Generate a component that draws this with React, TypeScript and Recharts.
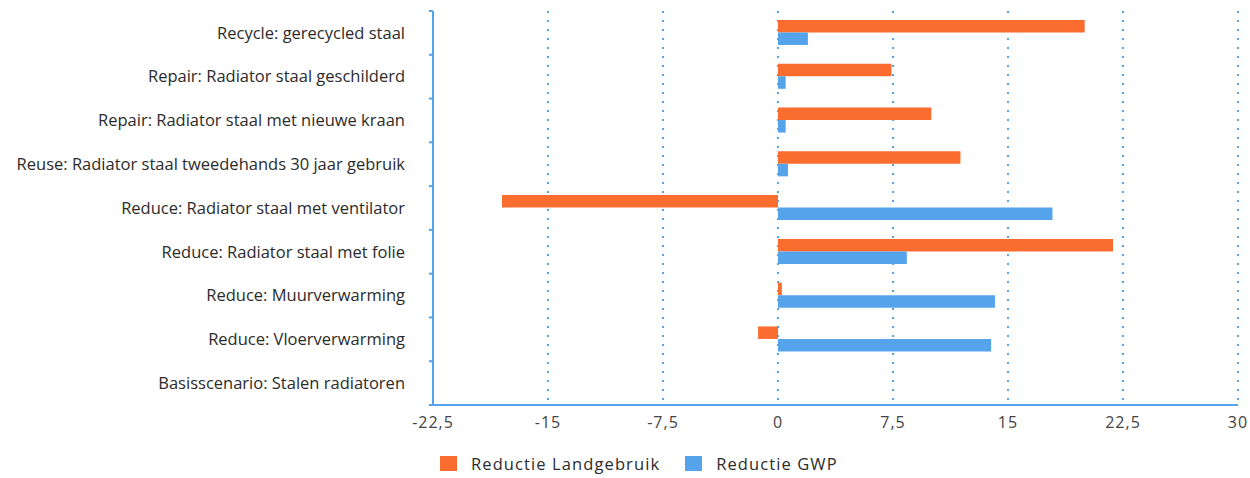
import { BarChart, Bar, XAxis, YAxis, CartesianGrid, Legend } from 'recharts';

const categories = [
  'Recycle: gerecycled staal',
  'Repair: Radiator staal geschilderd',
  'Repair: Radiator staal met nieuwe kraan',
  'Reuse: Radiator staal tweedehands 30 jaar gebruik',
  'Reduce: Radiator staal met ventilator',
  'Reduce: Radiator staal met folie',
  'Reduce: Muurverwarming',
  'Reduce: Vloerverwarming',
  'Basisscenario: Stalen radiatoren',
];
const landgebruik = [20.0, 7.4, 10.0, 11.9, -18.0, 21.85, 0.25, -1.3, 0];
const gwp = [1.95, 0.5, 0.5, 0.65, 17.9, 8.4, 14.15, 13.9, 0];
const xTicks = [-22.5, -15, -7.5, 0, 7.5, 15, 22.5, 30];

const series = [
  { key: 'Reductie Landgebruik', color: '#fa6d2f' },
  { key: 'Reductie GWP', color: '#54a3eb' },
];

const data = categories.map((name, i) => ({
  name,
  'Reductie Landgebruik': landgebruik[i],
  'Reductie GWP': gwp[i],
}));

const BLUE = '#54a3eb';
const FONT = '"Open Sans", sans-serif';

const TOP = 11;
const PLOT_H = 394;
const BAND = PLOT_H / categories.length;

const YTick = (props: any) => {
  const { x, y, payload, index } = props;
  return (
    <g>
      <line x1={x - 4} x2={x} y1={y - BAND / 2} y2={y - BAND / 2} stroke={BLUE} strokeWidth={2} />
      {index === categories.length - 1 && (
        <line x1={x - 4} x2={x} y1={y + BAND / 2} y2={y + BAND / 2} stroke={BLUE} strokeWidth={2} />
      )}
      <text x={x - 28} y={y} dy="0.35em" textAnchor="end" fill="#2b2b2b" fontSize={16.5} fontFamily={FONT}>
        {payload.value}
      </text>
    </g>
  );
};

const LegendContent = () => (
  <div style={{ display: 'flex', height: 20, alignItems: 'center', paddingLeft: 440, fontFamily: FONT, fontSize: 16.5, letterSpacing: 1.1, color: '#2b2b2b' }}>
    {series.map((s) => (
      <div key={s.key} style={{ display: 'flex', alignItems: 'center', marginRight: 25 }}>
        <span style={{ display: 'inline-block', width: 17, height: 15, background: s.color, marginRight: 14 }} />
        <span>{s.key}</span>
      </div>
    ))}
  </div>
);

export default function App() {
  return (
    <div style={{ position: 'absolute', left: 0, top: 0, background: '#fff' }}>
      <BarChart
        width={1250}
        height={478}
        data={data}
        layout="vertical"
        margin={{ top: TOP, right: 12, left: 0, bottom: 5 }}
        barGap={0}
        barSize={12.5}
      >
        <CartesianGrid horizontal={false} stroke={BLUE} strokeWidth={2} strokeDasharray="2 7" />
        <XAxis
          type="number"
          domain={[-22.5, 30]}
          ticks={xTicks}
          interval={0}
          tickFormatter={(v: number) => String(v).replace('.', ',')}
          axisLine={{ stroke: BLUE, strokeWidth: 2 }}
          tickLine={false}
          tickMargin={6}
          height={48}
          tick={{ fill: '#444', fontSize: 16, fontFamily: FONT, letterSpacing: 1 }}
        />
        <YAxis
          type="category"
          dataKey="name"
          width={433}
          axisLine={{ stroke: BLUE, strokeWidth: 2 }}
          tickLine={false}
          tickSize={0}
          tickMargin={0}
          interval={0}
          tick={<YTick />}
        />
        <Legend content={<LegendContent />} wrapperStyle={{ left: 0, width: 1250 }} />
        {series.map((s) => (
          <Bar key={s.key} dataKey={s.key} fill={s.color} isAnimationActive={false} />
        ))}
      </BarChart>
    </div>
  );
}
